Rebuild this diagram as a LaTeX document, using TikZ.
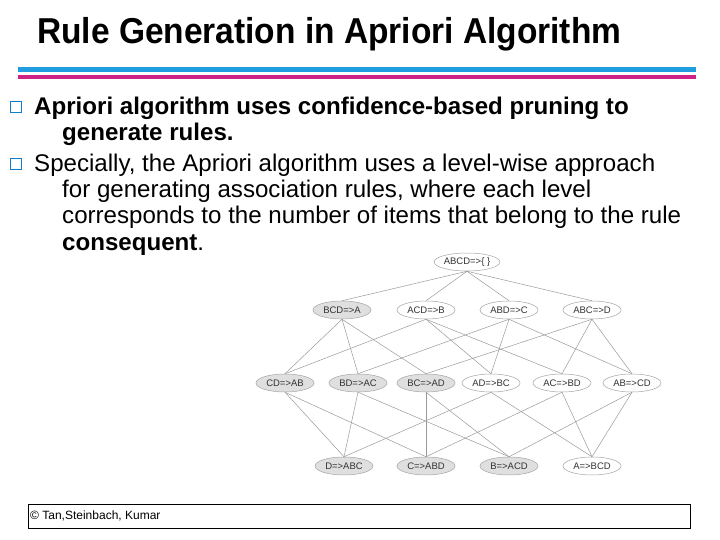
\documentclass[tikz,border=0pt]{standalone}
\usepackage{fontspec}
\setmainfont{Liberation Sans}
\usetikzlibrary{shapes.geometric}
\begin{document}
\begin{tikzpicture}[x=1pt,y=-1pt,
 rule/.style={ellipse,draw=gray!70,line width=0.5pt,minimum width=58pt,minimum height=18pt,inner sep=0pt,font=\fontsize{9.5}{10}\selectfont\color{black!80}},
 sh/.style={rule,fill=gray!25},
 wh/.style={rule,fill=white},
 ed/.style={draw=gray!80,line width=0.5pt},
 bul/.style={draw=cyan!60!blue,line width=1.5pt,minimum size=11pt,inner sep=0pt},
 txt/.style={anchor=base west,inner sep=0pt,font=\fontsize{24.1}{28}\selectfont}]
\useasboundingbox (0,0) rectangle (720,540);
\node[anchor=base west,inner sep=0pt,font=\fontsize{36}{38}\selectfont\bfseries] (title) at (37,44) {\addfontfeatures{FakeStretch=0.93}Rule Generation in Apriori Algorithm};
\fill[cyan!80!blue!90] (18,67) rectangle (696,72);
\fill[magenta!70!violet] (18,75) rectangle (696,79.5);
\node[bul] (b1) at (16,107) {};
\node[bul] (b2) at (16,164) {};
\node[txt] (t1) at (34,115) {\bfseries Apriori algorithm uses confidence-based pruning to};
\node[txt] (t1b) at (62,141) {\bfseries generate rules.};
\node[txt] (t2) at (34,172) {Specially, the Apriori algorithm uses a level-wise approach};
\node[txt] (t2b) at (62,198) {for generating association rules, where each level};
\node[txt] (t2c) at (62,224) {corresponds to the number of items that belong to the rule};
\node[txt] (t2d) at (62,250) {\bfseries consequent\mdseries.};
\node[wh] (r) at (467,262) {ABCD=>\{ \}};
\node[sh] (a1) at (342,310) {BCD=>A};
\node[wh] (a2) at (426,310) {ACD=>B};
\node[wh] (a3) at (509,310) {ABD=>C};
\node[wh] (a4) at (592,310) {ABC=>D};
\node[sh] (cd) at (285,383) {CD=>AB};
\node[sh] (bd) at (358,383) {BD=>AC};
\node[sh] (bc) at (426,383) {BC=>AD};
\node[wh] (ad) at (491,383) {AD=>BC};
\node[wh] (ac) at (562,383) {AC=>BD};
\node[wh] (ab) at (632,383) {AB=>CD};
\node[sh] (d) at (344,466) {D=>ABC};
\node[sh] (c) at (426,466) {C=>ABD};
\node[sh] (b) at (509,466) {B=>ACD};
\node[wh] (a) at (592,466) {A=>BCD};
\foreach \n in {a1,a2,a3,a4} \draw[ed] (r.south) -- (\n.north);
\foreach \p/\q in {a1/cd,a1/bd,a1/bc,a2/cd,a2/ad,a2/ac,a3/bd,a3/ad,a3/ab,a4/bc,a4/ac,a4/ab,
 cd/d,cd/c,bd/d,bd/b,bc/c,bc/b,ad/d,ad/a,ac/c,ac/a,ab/b,ab/a}
 \draw[ed] (\p.south) -- (\q.north);
\draw[line width=1pt] (28,504) rectangle (690,528);
\node[anchor=west,inner sep=0pt,font=\fontsize{12}{13}\selectfont] (ft) at (30,516) {© Tan,Steinbach, Kumar};
\end{tikzpicture}
\end{document}
